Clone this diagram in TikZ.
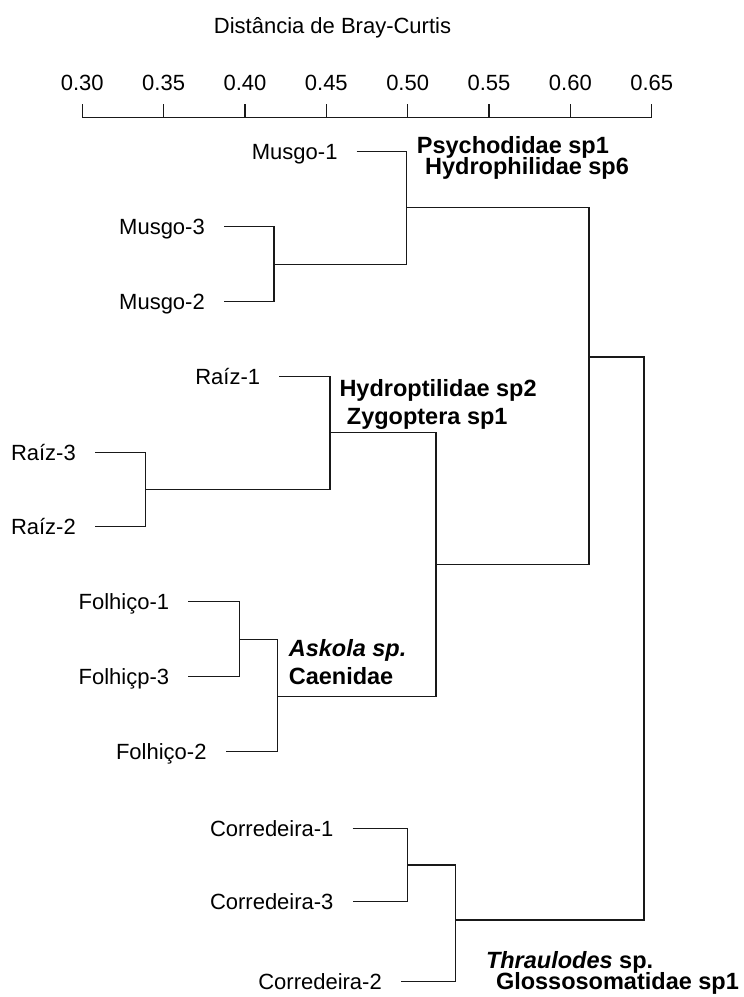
\documentclass[tikz,border=0pt]{standalone}
\usepackage{fontspec}
\setmainfont{Liberation Sans}

\begin{document}
\begin{tikzpicture}[x=1bp, y=-1bp]
            \tikzstyle{Scale} = [inner sep=0pt, text height=15.5bp, text depth=0pt, font=\fontsize{22bp}{26bp}\selectfont]
            \tikzstyle{Leaf} = [Scale, anchor=east, inner xsep=19bp]
            \tikzstyle{Taxon} = [inner sep=0pt, anchor=west, text height=16.5bp, text depth=0pt, font=\fontsize{23.5bp}{28bp}\selectfont\bfseries]
            \tikzstyle{Branch} = [line width=1.4bp, color=black!90]
            \useasboundingbox (0,0) rectangle (744,997);

            \node[Scale] (title) at (332.5,26) {Distância de Bray-Curtis};
            \foreach \v [count=\i from 0] in {0.30,0.35,0.40,0.45,0.50,0.55,0.60,0.65} {
                \node[Scale] (tick\i) at (82.3+81.34*\i,83) {\v};
                \draw[Branch] (82.3+81.34*\i,104) -- (82.3+81.34*\i,117.3);
            }
            \draw[Branch] (82.3,117.3) -- (651.7,117.3);

            \node[Leaf] (musgo1) at (356.7,151.7) {Musgo-1};
            \node[Leaf] (musgo3) at (224,226.7) {Musgo-3};
            \node[Leaf] (musgo2) at (224,301.7) {Musgo-2};
            \node[Leaf] (raiz1) at (279.3,376.7) {Raíz-1};
            \node[Leaf] (raiz3) at (95,452.3) {Raíz-3};
            \node[Leaf] (raiz2) at (95,526.7) {Raíz-2};
            \node[Leaf] (folhico1) at (188.3,601.7) {Folhiço-1};
            \node[Leaf] (folhico3) at (188.3,676.7) {Folhiçp-3};
            \node[Leaf] (folhico2) at (225.7,751.7) {Folhiço-2};
            \node[Leaf] (corr1) at (352.7,828.3) {Corredeira-1};
            \node[Leaf] (corr3) at (352.7,901.7) {Corredeira-3};
            \node[Leaf] (corr2) at (401,981.7) {Corredeira-2};

            \coordinate (musgoB) at (274,264.2);
            \coordinate (musgoA) at (406.7,207.7);
            \coordinate (raizB) at (145.3,489.5);
            \coordinate (raizA) at (330,432.7);
            \coordinate (folhicoB) at (239.3,639.2);
            \coordinate (folhicoA) at (277.3,696.7);
            \coordinate (raizFolhico) at (436,564.3);
            \coordinate (upper) at (589,357);
            \coordinate (corrB) at (407.3,865);
            \coordinate (corrA) at (455.2,920);
            \coordinate (root) at (644,638);

            \draw[Branch] (musgo3.east) -| (musgoB) |- (musgo2.east);
            \draw[Branch] (musgo1.east) -| (musgoA) |- (musgoB);
            \draw[Branch] (raiz3.east) -| (raizB) |- (raiz2.east);
            \draw[Branch] (raiz1.east) -| (raizA) |- (raizB);
            \draw[Branch] (folhico1.east) -| (folhicoB) |- (folhico3.east);
            \draw[Branch] (folhicoB) -| (folhicoA) |- (folhico2.east);
            \draw[Branch] (raizA) -| (raizFolhico) |- (folhicoA);
            \draw[Branch] (musgoA) -| (upper) |- (raizFolhico);
            \draw[Branch] (corr1.east) -| (corrB) |- (corr3.east);
            \draw[Branch] (corrB) -| (corrA) |- (corr2.east);
            \draw[Branch] (upper) -| (root) |- (corrA);

            \node[Taxon] (psychodidae) at (416.7,145) {Psychodidae sp1};
            \node[Taxon] (hydrophilidae) at (425,166.7) {Hydrophilidae sp6};
            \node[Taxon] (hydroptilidae) at (339.3,388.3) {Hydroptilidae sp2};
            \node[Taxon] (zygoptera) at (346.7,416) {Zygoptera sp1};
            \node[Taxon] (askola) at (288.6,648.3) {\textit{Askola sp.}};
            \node[Taxon] (caenidae) at (288.6,676.7) {Caenidae};
            \node[Taxon] (thraulodes) at (485.8,960) {\textit{Thraulodes} sp.};
            \node[Taxon] (glossosomatidae) at (495.8,981.7) {Glossosomatidae sp1};
        \end{tikzpicture}
\end{document}
